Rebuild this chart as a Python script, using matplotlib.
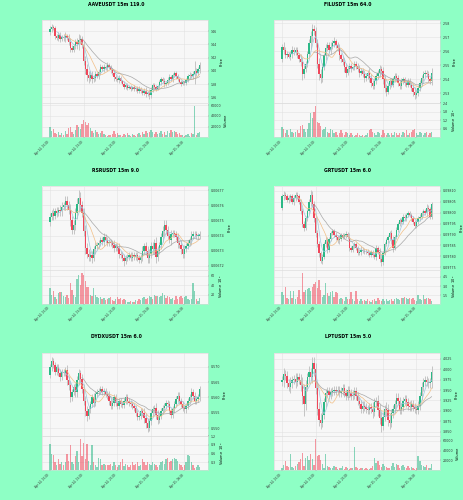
import numpy as np
import matplotlib
matplotlib.use("Agg")
import matplotlib.pyplot as plt
import matplotlib.ticker as ticker

# candle data, 15m bars, 90 per symbol (open of bar i = close of bar i-1)
titles = ["AAVEUSDT 15m 119.0", "FILUSDT 15m 64.0", "RSRUSDT 15m 9.0",
          "GRTUSDT 15m 6.0", "DYDXUSDT 15m 6.0", "LPTUSDT 15m 5.0"]
tick_pos = [0, 20, 40, 60, 80]
tick_labels = ["Apr 24, 10:00", "Apr 24, 15:00", "Apr 24, 20:00",
               "Apr 25, 01:00", "Apr 25, 06:00"]

aave_open0 = 145.8
aave_close = [146.3, 146.6, 146.4, 145.2, 145.0, 145.4, 144.8, 145.1, 144.9, 145.2,
              145.0, 144.4, 143.5, 143.2, 143.8, 144.3, 144.0, 144.6, 144.8, 143.9,
              141.5, 140.2, 139.3, 138.9, 139.4, 138.7, 138.9, 139.5, 139.2, 139.8,
              140.5, 140.2, 140.6, 140.4, 140.9, 140.5, 140.1, 139.6, 139.0, 138.8,
              138.6, 138.9, 138.4, 138.0, 137.6, 137.8, 137.4, 137.6, 137.3, 137.5,
              137.2, 137.4, 137.0, 137.3, 136.9, 136.7, 137.0, 136.5, 136.6, 136.3,
              137.1, 137.8, 137.6, 137.3, 137.7, 138.3, 138.7, 138.5, 138.0, 138.2,
              138.6, 139.0, 138.7, 139.3, 139.6, 139.2, 138.7, 138.3, 138.0, 138.3,
              138.1, 138.6, 139.2, 139.4, 139.2, 139.5, 140.0, 139.6, 140.2, 140.9]
aave_wick = [4, 5, 3, 4, 3, 5, 4, 3, 4, 6, 3, 5, 6, 4, 3, 5, 7, 9, 6, 5,
             6, 7, 8, 7, 5, 6, 4, 5, 3, 4, 5, 3, 4, 3, 4, 3, 4, 3, 5, 4,
             3, 4, 3, 2, 4, 3, 3, 2, 3, 2, 3, 2, 3, 4, 3, 3, 4, 5, 3, 6,
             4, 3, 4, 3, 2, 3, 4, 3, 4, 3, 4, 5, 3, 4, 3, 4, 3, 2, 3, 2,
             2, 3, 3, 4, 3, 5, 15, 4, 3, 5]
aave_wick_unit = 0.1
aave_vol = [20, 12, 16, 8, 6, 10, 5, 8, 4, 12, 7, 18, 20, 10, 6, 14, 22, 20, 16, 24,
            32, 28, 22, 26, 18, 12, 8, 14, 10, 6, 8, 12, 6, 4, 3, 5, 4, 7, 12, 6,
            8, 4, 5, 3, 6, 5, 8, 4, 3, 6, 4, 3, 6, 8, 5, 10, 6, 12, 8, 10,
            14, 9, 6, 10, 7, 8, 12, 6, 10, 4, 12, 8, 14, 10, 12, 9, 6, 8, 5, 4,
            2, 4, 6, 3, 8, 6, 58, 4, 8, 10]
aave_vol_unit = 1000

fil_open0 = 2.5547
fil_close = [2.5633, 2.5608, 2.5571, 2.5583, 2.5559, 2.5583, 2.5608, 2.5596, 2.5608, 2.5571,
             2.5547, 2.5522, 2.5436, 2.5473, 2.5510, 2.5583, 2.5657, 2.5707, 2.5756, 2.5743,
             2.5657, 2.5510, 2.5436, 2.5411, 2.5485, 2.5571, 2.5620, 2.5645, 2.5608, 2.5633,
             2.5657, 2.5670, 2.5645, 2.5620, 2.5571, 2.5547, 2.5522, 2.5485, 2.5448, 2.5473,
             2.5497, 2.5473, 2.5485, 2.5510, 2.5497, 2.5473, 2.5448, 2.5460, 2.5436, 2.5411,
             2.5424, 2.5448, 2.5411, 2.5374, 2.5350, 2.5387, 2.5424, 2.5448, 2.5473, 2.5460,
             2.5399, 2.5338, 2.5313, 2.5350, 2.5387, 2.5362, 2.5399, 2.5424, 2.5411, 2.5374,
             2.5350, 2.5387, 2.5399, 2.5374, 2.5362, 2.5387, 2.5362, 2.5338, 2.5313, 2.5288,
             2.5301, 2.5338, 2.5374, 2.5411, 2.5436, 2.5448, 2.5436, 2.5399, 2.5387, 2.5448]
fil_wick = [2, 3, 2, 2, 1, 2, 3, 2, 2, 2, 2, 3, 4, 3, 2, 2, 3, 4, 4, 3,
            3, 3, 4, 4, 3, 2, 3, 2, 2, 3, 2, 3, 2, 2, 3, 2, 2, 3, 3, 2,
            2, 2, 1, 2, 2, 2, 3, 2, 2, 3, 2, 2, 3, 3, 2, 2, 2, 2, 3, 2,
            3, 3, 3, 2, 2, 2, 2, 2, 2, 2, 2, 2, 2, 2, 2, 2, 2, 2, 3, 3,
            2, 2, 2, 2, 2, 2, 2, 2, 2, 3]
fil_wick_unit = 0.001
fil_vol = [0.7, 0.6, 0.3, 0.5, 0.2, 0.6, 0.4, 0.3, 0.4, 0.5, 0.3, 0.8, 0.9, 0.6, 0.4, 0.6,
           1.0, 1.7, 1.4, 1.8, 2.2, 1.1, 1.0, 0.8, 0.5, 0.6, 0.7, 0.4, 0.3, 0.6, 0.5, 0.3,
           0.4, 0.2, 0.3, 0.5, 0.3, 0.2, 0.4, 0.3, 0.2, 0.3, 0.2, 0.1, 0.2, 0.3, 0.2, 0.1,
           0.2, 0.1, 0.2, 0.3, 0.5, 0.6, 0.4, 0.3, 0.2, 0.4, 0.3, 0.2, 0.5, 0.3, 0.2, 0.3,
           0.2, 0.3, 0.2, 0.4, 0.3, 0.2, 0.3, 0.2, 0.4, 0.3, 0.5, 0.2, 0.3, 0.4, 0.5, 0.6,
           0.3, 0.2, 0.4, 0.3, 0.2, 0.3, 0.4, 0.2, 0.3, 0.4]
fil_vol_unit = 1e5

rsr_open0 = 0.006749
rsr_close = [0.006752, 0.006755, 0.006753, 0.006756, 0.006755, 0.006757, 0.006756, 0.006759, 0.006760, 0.006763,
             0.006760, 0.006757, 0.006750, 0.006744, 0.006747, 0.006755, 0.006761, 0.006765, 0.006760, 0.006755,
             0.006743, 0.006732, 0.006728, 0.006726, 0.006727, 0.006725, 0.006731, 0.006733, 0.006734, 0.006735,
             0.006737, 0.006736, 0.006739, 0.006737, 0.006735, 0.006736, 0.006735, 0.006734, 0.006732, 0.006733,
             0.006732, 0.006728, 0.006727, 0.006725, 0.006723, 0.006725, 0.006726, 0.006727, 0.006725, 0.006727,
             0.006726, 0.006727, 0.006725, 0.006724, 0.006726, 0.006730, 0.006733, 0.006730, 0.006725, 0.006728,
             0.006733, 0.006731, 0.006735, 0.006726, 0.006730, 0.006734, 0.006739, 0.006743, 0.006747, 0.006744,
             0.006740, 0.006737, 0.006741, 0.006742, 0.006741, 0.006739, 0.006735, 0.006734, 0.006731, 0.006728,
             0.006731, 0.006733, 0.006735, 0.006737, 0.006740, 0.006741, 0.006741, 0.006740, 0.006740, 0.006741]
rsr_wick = [3, 2, 3, 2, 3, 2, 3, 3, 2, 3, 3, 3, 4, 3, 3, 3, 4, 5, 4, 3,
            3, 4, 3, 3, 3, 3, 2, 3, 2, 2, 2, 2, 3, 2, 2, 2, 2, 2, 3, 2,
            2, 3, 2, 2, 3, 2, 2, 2, 2, 2, 2, 2, 2, 2, 2, 3, 2, 3, 3, 3,
            3, 3, 3, 4, 3, 2, 3, 3, 3, 3, 2, 2, 3, 2, 2, 2, 3, 2, 3, 3,
            3, 2, 2, 2, 3, 2, 2, 2, 2, 2]
rsr_wick_unit = 0.000001
rsr_vol = [34, 20, 27, 15, 10, 23, 25, 25, 18, 15, 20, 12, 44, 30, 20, 15, 52, 62, 40, 66,
           62, 48, 35, 35, 20, 18, 33, 20, 15, 12, 14, 10, 12, 8, 10, 12, 14, 8, 6, 10,
           14, 10, 12, 8, 10, 8, 5, 4, 6, 5, 4, 8, 6, 10, 8, 12, 14, 10, 12, 16,
           14, 10, 20, 16, 18, 15, 18, 24, 20, 12, 18, 14, 10, 12, 8, 16, 10, 14, 18, 12,
           14, 16, 10, 8, 10, 44, 28, 10, 6, 12]
rsr_vol_unit = 1e5

grt_open0 = 0.098024
grt_close = [0.098075, 0.098083, 0.098075, 0.098058, 0.098066, 0.098075, 0.098049, 0.098066, 0.098083, 0.098075,
             0.098049, 0.098007, 0.097948, 0.097932, 0.097974, 0.098007, 0.098049, 0.098083, 0.098041, 0.097974,
             0.097906, 0.097856, 0.097814, 0.097780, 0.097797, 0.097856, 0.097873, 0.097831, 0.097881, 0.097906,
             0.097915, 0.097898, 0.097890, 0.097873, 0.097881, 0.097898, 0.097890, 0.097898, 0.097903, 0.097890,
             0.097839, 0.097831, 0.097847, 0.097856, 0.097839, 0.097814, 0.097822, 0.097831, 0.097826, 0.097819,
             0.097822, 0.097814, 0.097805, 0.097819, 0.097805, 0.097797, 0.097839, 0.097822, 0.097789, 0.097772,
             0.097814, 0.097856, 0.097873, 0.097890, 0.097906, 0.097873, 0.097839, 0.097890, 0.097923, 0.097948,
             0.097965, 0.097957, 0.097982, 0.097974, 0.097991, 0.097999, 0.097991, 0.097974, 0.097957, 0.097940,
             0.097957, 0.097974, 0.097982, 0.097999, 0.098007, 0.097999, 0.098024, 0.098016, 0.097982, 0.098041]
grt_wick = [2, 3, 2, 2, 3, 2, 2, 3, 2, 2, 2, 3, 3, 3, 2, 2, 3, 4, 3, 3,
            3, 3, 3, 2, 3, 2, 3, 3, 2, 2, 2, 2, 3, 2, 3, 2, 2, 2, 3, 2,
            3, 2, 2, 2, 2, 2, 2, 3, 2, 2, 2, 2, 2, 2, 2, 2, 3, 2, 3, 3,
            2, 2, 2, 2, 2, 3, 4, 2, 2, 2, 2, 2, 2, 2, 2, 2, 2, 2, 2, 2,
            2, 2, 2, 2, 2, 2, 3, 2, 2, 2]
grt_wick_unit = 0.000005
grt_vol = [2.0, 1.5, 2.8, 1.0, 0.8, 2.1, 1.0, 2.2, 0.8, 1.2, 2.3, 0.9, 5.2, 2.0, 2.3, 2.5,
           2.6, 2.1, 2.9, 3.3, 3.6, 2.7, 4.0, 2.4, 1.2, 1.5, 3.5, 1.8, 1.3, 2.0, 2.2, 1.2,
           2.0, 1.8, 0.9, 1.0, 0.8, 0.6, 1.2, 0.9, 0.8, 2.0, 0.9, 0.6, 2.1, 0.8, 0.6, 0.9,
           0.5, 0.7, 0.6, 0.8, 0.5, 0.4, 0.7, 0.8, 0.6, 1.0, 0.7, 0.5, 0.8, 0.6, 0.9, 0.5,
           0.7, 0.8, 0.6, 0.9, 1.1, 0.8, 0.7, 1.0, 1.1, 1.2, 1.0, 0.8, 1.0, 0.9, 1.1, 0.7,
           0.6, 1.6, 0.9, 0.7, 1.5, 0.8, 1.1, 1.0, 0.9, 0.6]
grt_vol_unit = 1e5

dydx_open0 = 0.5672
dydx_close = [0.5700, 0.5717, 0.5706, 0.5683, 0.5700, 0.5678, 0.5667, 0.5683, 0.5678, 0.5689,
              0.5656, 0.5639, 0.5600, 0.5617, 0.5633, 0.5617, 0.5656, 0.5678, 0.5661, 0.5628,
              0.5589, 0.5556, 0.5539, 0.5561, 0.5578, 0.5600, 0.5583, 0.5611, 0.5617, 0.5622,
              0.5628, 0.5617, 0.5622, 0.5611, 0.5606, 0.5589, 0.5572, 0.5583, 0.5600, 0.5583,
              0.5572, 0.5589, 0.5580, 0.5576, 0.5589, 0.5600, 0.5589, 0.5583, 0.5578, 0.5572,
              0.5567, 0.5550, 0.5536, 0.5539, 0.5556, 0.5550, 0.5533, 0.5517, 0.5502, 0.5522,
              0.5550, 0.5561, 0.5567, 0.5544, 0.5528, 0.5539, 0.5556, 0.5567, 0.5572, 0.5583,
              0.5578, 0.5556, 0.5544, 0.5561, 0.5578, 0.5594, 0.5606, 0.5589, 0.5578, 0.5567,
              0.5561, 0.5572, 0.5589, 0.5600, 0.5617, 0.5606, 0.5589, 0.5594, 0.5600, 0.5628]
dydx_wick = [2, 3, 2, 2, 2, 2, 3, 2, 2, 2, 3, 3, 3, 2, 2, 3, 3, 3, 2, 3,
             3, 3, 3, 2, 2, 2, 3, 2, 2, 2, 2, 2, 2, 2, 2, 3, 2, 2, 2, 2,
             2, 2, 2, 2, 2, 2, 2, 2, 2, 2, 2, 2, 2, 2, 2, 2, 3, 3, 3, 2,
             2, 2, 2, 3, 3, 2, 2, 2, 2, 2, 2, 2, 2, 2, 2, 2, 2, 2, 2, 2,
             2, 2, 2, 2, 3, 2, 2, 2, 2, 2]
dydx_wick_unit = 0.0005
dydx_vol = [0.93, 0.6, 0.54, 0.3, 0.2, 0.42, 0.25, 0.3, 0.2, 0.3, 0.58, 0.35, 0.9, 0.3, 0.25,
            0.5, 0.7, 0.3, 1.1, 0.5, 0.96, 0.4, 0.93, 0.35, 0.2, 0.89, 0.3, 0.2, 0.15, 0.45,
            0.4, 0.2, 0.25, 0.2, 0.22, 0.2, 0.25, 0.18, 0.3, 0.22, 0.15, 0.2, 0.3, 0.4, 0.18,
            0.25, 0.2, 0.15, 0.22, 0.3, 0.2, 0.25, 0.3, 0.18, 0.2, 0.4, 0.3, 0.2, 0.3, 0.25,
            0.2, 0.3, 0.25, 0.2, 0.15, 0.2, 0.3, 0.35, 0.25, 0.4, 0.45, 0.3, 0.35, 0.4, 0.45,
            0.4, 0.35, 0.25, 0.2, 0.15, 0.2, 0.3, 0.55, 0.5, 0.3, 0.2, 0.1, 0.15, 0.2, 0.12]
dydx_vol_unit = 1e6

lpt_open0 = 3.9697
lpt_close = [3.9735, 3.9886, 3.9848, 3.9659, 3.9583, 3.9659, 3.9735, 3.9772, 3.9697, 3.9810,
             3.9735, 3.9621, 3.9356, 3.9166, 3.9583, 3.9810, 3.9924, 3.9810, 4.0151, 4.0000,
             3.9545, 3.9052, 3.8787, 3.8711, 3.8901, 3.9204, 3.9431, 3.9469, 3.9393, 3.9447,
             3.9469, 3.9507, 3.9469, 3.9507, 3.9431, 3.9469, 3.9545, 3.9431, 3.9356, 3.9507,
             3.9431, 3.9356, 3.9393, 3.9469, 3.9356, 3.9242, 3.9166, 3.9052, 3.9128, 3.9090,
             3.9052, 3.9014, 3.9090, 3.9052, 3.8977, 3.9204, 3.9242, 3.9014, 3.8825, 3.8635,
             3.8863, 3.9052, 3.9014, 3.8787, 3.8711, 3.8939, 3.9052, 3.9166, 3.9318, 3.9242,
             3.9014, 3.9090, 3.9242, 3.9280, 3.9204, 3.9128, 3.9090, 3.9166, 3.9090, 3.9052,
             3.9014, 3.9128, 3.9356, 3.9583, 3.9697, 3.9735, 3.9697, 3.9659, 3.9697, 3.9924]
lpt_wick = [2, 3, 2, 2, 2, 3, 2, 2, 3, 2, 2, 3, 4, 6, 3, 2, 3, 2, 3, 3,
            3, 3, 3, 3, 2, 2, 2, 2, 2, 2, 2, 2, 2, 2, 2, 2, 2, 2, 2, 2,
            2, 2, 2, 2, 2, 2, 2, 2, 2, 2, 2, 2, 2, 2, 3, 2, 2, 3, 3, 3,
            2, 2, 3, 3, 3, 2, 2, 2, 2, 2, 2, 2, 2, 2, 2, 2, 2, 2, 2, 2,
            2, 2, 2, 2, 2, 2, 2, 2, 2, 3]
lpt_wick_unit = 0.005
lpt_vol = [5, 10, 18, 8, 6, 32, 6, 4, 8, 12, 16, 22, 34, 8, 24, 28, 20, 33, 22, 10,
           63, 28, 30, 20, 12, 5, 33, 8, 6, 5, 4, 8, 6, 3, 4, 5, 8, 3, 6, 4,
           3, 5, 4, 48, 6, 4, 3, 5, 4, 3, 4, 2, 3, 5, 8, 24, 14, 18, 10, 6,
           12, 8, 6, 4, 5, 8, 14, 6, 12, 10, 5, 8, 10, 6, 4, 8, 5, 6, 4, 3,
           5, 28, 18, 10, 8, 6, 10, 5, 4, 12]
lpt_vol_unit = 1000

panels = [
    (aave_open0, aave_close, aave_wick, aave_wick_unit, aave_vol, aave_vol_unit, ""),
    (fil_open0, fil_close, fil_wick, fil_wick_unit, fil_vol, fil_vol_unit, "$10^{5}$"),
    (rsr_open0, rsr_close, rsr_wick, rsr_wick_unit, rsr_vol, rsr_vol_unit, "$10^{5}$"),
    (grt_open0, grt_close, grt_wick, grt_wick_unit, grt_vol, grt_vol_unit, "$10^{5}$"),
    (dydx_open0, dydx_close, dydx_wick, dydx_wick_unit, dydx_vol, dydx_vol_unit, "$10^{6}$"),
    (lpt_open0, lpt_close, lpt_wick, lpt_wick_unit, lpt_vol, lpt_vol_unit, ""),
]

bg = '#8effc5'
up_c = '#2bb886'
dn_c = '#f0465a'
mav = [(5, '#9ec8de'), (10, '#f2bf86'), (20, '#a8a8a8')]

fig = plt.figure(figsize=(4.64, 5.0), dpi=100, facecolor=bg)

for k, (o0, closes, wick, wunit, vols, vunit, vexp) in enumerate(panels):
    r, c = divmod(k, 2)
    left = (42 + 232 * c) / 464
    w = 166 / 464
    top = 20 + 166.5 * r
    axp = fig.add_axes([left, 1 - (top + 83) / 500, w, 83 / 500])
    axv = fig.add_axes([left, 1 - (top + 117) / 500, w, 34 / 500], sharex=axp)

    cl = np.array(closes)
    op = np.concatenate([[o0], cl[:-1]])
    wk = np.array(wick) * wunit
    hi = np.maximum(op, cl) + wk
    lo = np.minimum(op, cl) - wk
    x = np.arange(len(cl))
    is_up = cl >= op
    cols = np.where(is_up, up_c, dn_c)
    rng = hi.max() - lo.min()

    for ax in (axp, axv):
        ax.set_facecolor('#f7f7f7')
        ax.grid(True, color='#e2e2e2', lw=0.4)
        ax.set_axisbelow(True)
        for s in ax.spines.values():
            s.set_color('#d8d8d8')
            s.set_linewidth(0.4)
        ax.yaxis.tick_right()
        ax.yaxis.set_label_position('right')
        ax.tick_params(labelsize=2.3, length=1, width=0.3, pad=1, colors='#333333')

    axp.vlines(x, lo, hi, color='#c4c4c4', lw=0.7, zorder=2)
    body = np.maximum(np.abs(cl - op), rng * 0.006)
    axp.bar(x, body, bottom=np.minimum(op, cl), width=0.8, color=cols, lw=0, zorder=3)
    for n, mc in mav:
        ma = np.convolve(cl, np.ones(n) / n, mode='valid')
        axp.plot(x[n - 1:], ma, color=mc, lw=0.5, zorder=4)
    axp.set_ylim(lo.min() - 0.05 * rng, hi.max() + 0.05 * rng)
    axp.ticklabel_format(axis='y', useOffset=False, style='plain')
    axp.set_ylabel('Price', fontsize=2.5, labelpad=2)
    plt.setp(axp.get_xticklabels(), visible=False)

    v = np.array(vols)
    axv.bar(x, v, width=0.8, color=cols, alpha=0.55, lw=0)
    axv.set_ylim(0.3 * v.min(), 1.1 * v.max())
    axv.yaxis.set_major_locator(ticker.MaxNLocator(4))
    if vunit >= 1e5:
        axv.set_ylabel('Volume  ' + vexp, fontsize=2.5, labelpad=2)
    else:
        axv.set_ylabel('Volume', fontsize=2.5, labelpad=2)
        axv.yaxis.set_major_formatter(ticker.FuncFormatter(lambda y, p, u=vunit: '%d' % round(y * u)))

    axp.set_xlim(-4.8, len(cl) + 4)
    axv.set_xticks(tick_pos)
    axv.set_xticklabels(tick_labels, rotation=45, ha='right', fontsize=2.0)

    fig.text((116 + 232 * c) / 464, 1 - (4 + 166.5 * r) / 500, titles[k],
             ha='center', va='center', fontsize=3.3, fontweight='bold')

fig.savefig('out.png', dpi=100, facecolor=bg)
